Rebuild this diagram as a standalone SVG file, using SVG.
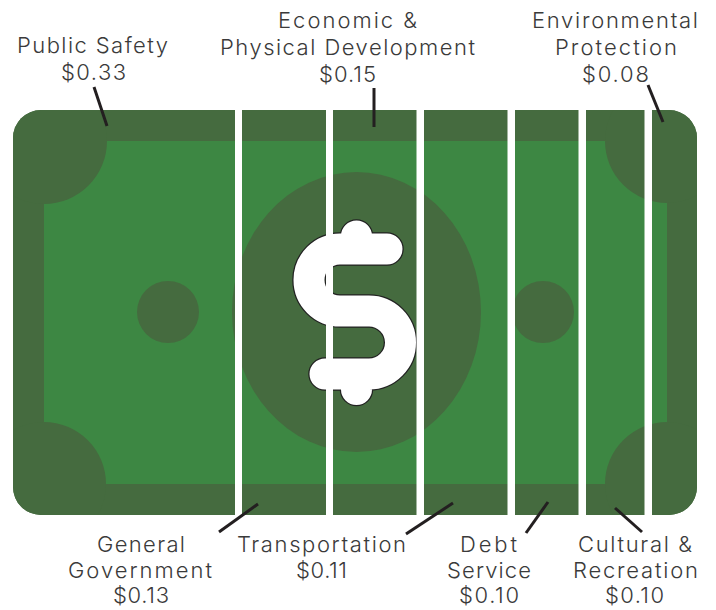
<svg xmlns="http://www.w3.org/2000/svg" width="716" height="610" viewBox="0 0 716 610">
<style>
.dark{fill:#456b3f}
.light{fill:#3d8743}
.gap{fill:#ffffff}
.lbl{font-family:"Inter","Open Sans","Liberation Sans",sans-serif;font-weight:300;font-size:22px;fill:#3a3a3a;text-anchor:middle}
.lead{stroke:#231f20;stroke-width:3;fill:none}
.sOut{stroke:#222222;stroke-width:33.5;fill:none;stroke-linecap:round;stroke-linejoin:round}
.sIn{stroke:#ffffff;stroke-width:31;fill:none;stroke-linecap:round;stroke-linejoin:round}
</style>
<defs>
  <clipPath id="billClip">
    <rect x="13" y="110" width="684" height="405" rx="28" ry="28"/>
  </clipPath>
</defs>
<rect width="716" height="610" fill="#ffffff"/>
<g id="bill">
  <g clip-path="url(#billClip)">
    <rect class="dark" x="13" y="110" width="684" height="405"/>
    <rect class="light" x="44" y="141" width="623" height="343"/>
    <circle class="dark" cx="44" cy="141" r="63"/>
    <circle class="dark" cx="667" cy="141" r="62"/>
    <circle class="dark" cx="44" cy="484" r="62"/>
    <circle class="dark" cx="667" cy="484" r="62"/>
    <ellipse class="dark" cx="356.5" cy="312" rx="124.5" ry="140"/>
    <circle class="dark" cx="168" cy="312" r="31"/>
    <circle class="dark" cx="543" cy="312" r="31"/>
  </g>
  <g id="dollar">
    <path class="sOut" d="M387 249 H340 A31 31 0 0 0 340 311 H369 A31.5 31.5 0 0 1 369 374 H325 M356.5 236 V249 M356.5 374 V389.5"/>
    <path class="sIn" d="M387 249 H340 A31 31 0 0 0 340 311 H369 A31.5 31.5 0 0 1 369 374 H325 M356.5 236 V249 M356.5 374 V389.5"/>
  </g>
  <rect class="gap" x="235" y="105" width="7" height="415"/>
  <rect class="gap" x="326" y="105" width="7" height="415"/>
  <rect class="gap" x="416.5" y="105" width="7.5" height="415"/>
  <rect class="gap" x="507.5" y="105" width="7.5" height="415"/>
  <rect class="gap" x="578.5" y="105" width="7.5" height="415"/>
  <rect class="gap" x="644.5" y="105" width="7.5" height="415"/>
</g>
<g id="connectors">
  <line class="lead" x1="94" y1="87" x2="107" y2="126"/>
  <line class="lead" x1="374" y1="88" x2="374" y2="127"/>
  <line class="lead" x1="648" y1="85" x2="663" y2="122"/>
  <line class="lead" x1="219" y1="532" x2="258" y2="504"/>
  <line class="lead" x1="406" y1="534" x2="453" y2="503"/>
  <line class="lead" x1="526" y1="533" x2="548" y2="502"/>
  <line class="lead" x1="615" y1="508" x2="642" y2="532"/>
</g>
<g id="public-safety">
  <text class="lbl" x="92.5" y="53" textLength="151" lengthAdjust="spacing">Public Safety</text>
  <text class="lbl" x="93.5" y="80" textLength="65" lengthAdjust="spacing">$0.33</text>
</g>
<g id="economic-development">
  <text class="lbl" x="347.5" y="28" textLength="139" lengthAdjust="spacing">Economic &amp;</text>
  <text class="lbl" x="347.5" y="55" textLength="255" lengthAdjust="spacing">Physical Development</text>
  <text class="lbl" x="347.5" y="82" textLength="57" lengthAdjust="spacing">$0.15</text>
</g>
<g id="environmental-protection">
  <text class="lbl" x="615" y="28" textLength="166" lengthAdjust="spacing">Environmental</text>
  <text class="lbl" x="616" y="55" textLength="122" lengthAdjust="spacing">Protection</text>
  <text class="lbl" x="615.5" y="82" textLength="67" lengthAdjust="spacing">$0.08</text>
</g>
<g id="general-government">
  <text class="lbl" x="141" y="552" textLength="88" lengthAdjust="spacing">General</text>
  <text class="lbl" x="140" y="578" textLength="144" lengthAdjust="spacing">Government</text>
  <text class="lbl" x="141" y="603" textLength="56" lengthAdjust="spacing">$0.13</text>
</g>
<g id="transportation">
  <text class="lbl" x="321.5" y="552" textLength="169" lengthAdjust="spacing">Transportation</text>
  <text class="lbl" x="321.5" y="578" textLength="51" lengthAdjust="spacing">$0.11</text>
</g>
<g id="debt-service">
  <text class="lbl" x="488.5" y="552" textLength="57" lengthAdjust="spacing">Debt</text>
  <text class="lbl" x="489" y="578" textLength="84" lengthAdjust="spacing">Service</text>
  <text class="lbl" x="489" y="603" textLength="60" lengthAdjust="spacing">$0.10</text>
</g>
<g id="cultural-recreation">
  <text class="lbl" x="635" y="552" textLength="114" lengthAdjust="spacing">Cultural &amp;</text>
  <text class="lbl" x="635.5" y="578" textLength="125" lengthAdjust="spacing">Recreation</text>
  <text class="lbl" x="634.5" y="603" textLength="59" lengthAdjust="spacing">$0.10</text>
</g>
</svg>
